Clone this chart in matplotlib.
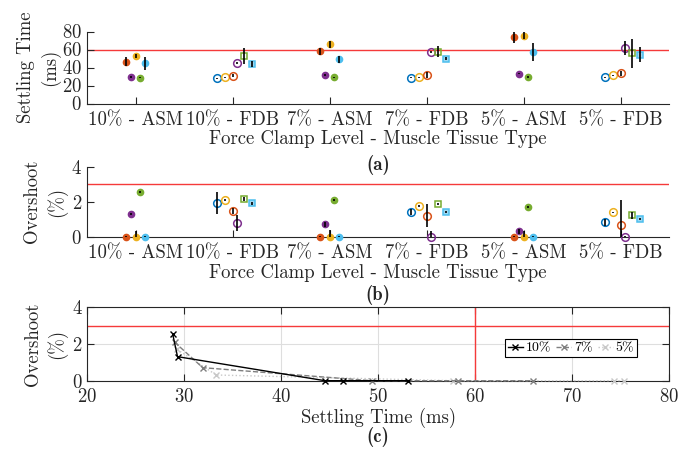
import matplotlib
matplotlib.use("Agg")
import matplotlib.pyplot as plt
import numpy as np

plt.rcParams['font.family'] = ['cmr10', 'DejaVu Serif']
plt.rcParams['axes.unicode_minus'] = False
plt.rcParams['axes.formatter.use_mathtext'] = True

# ---------------- data ----------------
categories = ['10% - ASM', '10% - FDB', '7% - ASM', '7% - FDB', '5% - ASM', '5% - FDB']
levels = ['10%', '7%', '5%']

# ASM groups (10%, 7%, 5%): filled circles
asm_red_st = [46.4, 58.2, 74.3];    asm_red_st_err = [5.0, 4.0, 7.0]
asm_purple_st = [29.3, 31.9, 33.3]; asm_purple_st_err = [1.0, 1.0, 1.0]
asm_yellow_st = [53.1, 65.9, 75.3]; asm_yellow_st_err = [2.0, 4.0, 4.0]
asm_green_st = [28.8, 29.0, 29.25]; asm_green_st_err = [1.0, 1.0, 1.0]
asm_blue_st = [44.5, 49.3, 57.7];   asm_blue_st_err = [7.6, 4.0, 10.0]

asm_red_os = [0.0, 0.0, 0.0];        asm_red_os_err = [0.02, 0.02, 0.02]
asm_purple_os = [1.31, 0.71, 0.31];  asm_purple_os_err = [0.05, 0.15, 0.15]
asm_yellow_os = [0.0, 0.0, 0.0];     asm_yellow_os_err = [0.35, 0.37, 0.35]
asm_green_os = [2.55, 2.1, 1.71];    asm_green_os_err = [0.05, 0.05, 0.05]
asm_blue_os = [0.0, 0.0, 0.0];       asm_blue_os_err = [0.02, 0.02, 0.02]

# FDB groups (10%, 7%, 5%): open markers
fdb_blue_st = [28.0, 28.7, 29.1];     fdb_blue_st_err = [0.5, 0.5, 0.5]
fdb_yellow_st = [29.0, 29.1, 31.3];   fdb_yellow_st_err = [0.5, 0.5, 0.5]
fdb_orange_st = [30.9, 31.7, 33.5];   fdb_orange_st_err = [2.0, 3.0, 3.0]
fdb_purple_st = [45.0, 57.6, 61.7];   fdb_purple_st_err = [1.0, 1.0, 7.6]
fdb_green_st = [52.4, 57.6, 55.7];    fdb_green_st_err = [8.9, 6.0, 15.7]
fdb_lblue_st = [43.9, 49.8, 54.3];    fdb_lblue_st_err = [3.0, 1.5, 8.0]

fdb_blue_os = [1.91, 1.41, 0.82];     fdb_blue_os_err = [0.63, 0.15, 0.2]
fdb_yellow_os = [2.08, 1.77, 1.39];   fdb_yellow_os_err = [0.05, 0.05, 0.05]
fdb_orange_os = [1.47, 1.2, 0.67];    fdb_orange_os_err = [0.15, 0.65, 1.42]
fdb_purple_os = [0.8, 0.0, 0.0];      fdb_purple_os_err = [0.46, 0.35, 0.02]
fdb_green_os = [2.15, 1.87, 1.24];    fdb_green_os_err = [0.1, 0.08, 0.2]
fdb_lblue_os = [1.91, 1.41, 1.01];    fdb_lblue_os_err = [0.08, 0.08, 0.05]

settle_limit = 60
overshoot_limit = 3

# ---------------- styles ----------------
C_BLUE = '#0072BD'; C_ORANGE = '#D95319'; C_YELLOW = '#EDB120'
C_PURPLE = '#7E2F8E'; C_GREEN = '#77AC30'; C_LBLUE = '#4DBEEE'
AX_COL = '#262626'
RED = '#F53A3A'

asm_pos = np.array([1, 3, 5])
fdb_pos = np.array([2, 4, 6])

asm_series = [
    (asm_red_st, asm_red_st_err, asm_red_os, asm_red_os_err, C_ORANGE, -0.10),
    (asm_purple_st, asm_purple_st_err, asm_purple_os, asm_purple_os_err, C_PURPLE, -0.05),
    (asm_yellow_st, asm_yellow_st_err, asm_yellow_os, asm_yellow_os_err, C_YELLOW, 0.0),
    (asm_green_st, asm_green_st_err, asm_green_os, asm_green_os_err, C_GREEN, 0.05),
    (asm_blue_st, asm_blue_st_err, asm_blue_os, asm_blue_os_err, C_LBLUE, 0.10),
]
fdb_series = [
    (fdb_blue_st, fdb_blue_st_err, fdb_blue_os, fdb_blue_os_err, C_BLUE, -0.155, 'o', 'none'),
    (fdb_yellow_st, fdb_yellow_st_err, fdb_yellow_os, fdb_yellow_os_err, C_YELLOW, -0.08, 'o', 'none'),
    (fdb_orange_st, fdb_orange_st_err, fdb_orange_os, fdb_orange_os_err, C_ORANGE, 0.0, 'o', 'none'),
    (fdb_purple_st, fdb_purple_st_err, fdb_purple_os, fdb_purple_os_err, C_PURPLE, 0.05, 'o', 'none'),
    (fdb_green_st, fdb_green_st_err, fdb_green_os, fdb_green_os_err, C_GREEN, 0.12, 's', 'none'),
    (fdb_lblue_st, fdb_lblue_st_err, fdb_lblue_os, fdb_lblue_os_err, C_LBLUE, 0.20, 's', '#9ED8F2'),
]

FS = 13.5
TICK_PAD = 5.5
W, H = 693, 451
fig = plt.figure(figsize=(W / 100, H / 100), dpi=100)

def ax_rect(left, right, top, bottom):
    return [left / W, 1 - bottom / H, (right - left) / W, (bottom - top) / H]

ax_a = fig.add_axes(ax_rect(87, 669, 31.5, 103.5))
ax_b = fig.add_axes(ax_rect(87, 669, 166.7, 236.7))
ax_c = fig.add_axes(ax_rect(87.3, 669.3, 307.3, 380.7))

def style_cat_axis(ax):
    for s in ['top', 'right']:
        ax.spines[s].set_visible(False)
    for s in ['left', 'bottom']:
        ax.spines[s].set_color(AX_COL)
        ax.spines[s].set_linewidth(0.8)
    ax.tick_params(direction='in', length=5, width=0.8, colors=AX_COL,
                   labelcolor='#262626', labelsize=FS)
    ax.tick_params(axis='x', pad=TICK_PAD)
    ax.set_xlim(0.5, 6.5)
    ax.set_xticks(np.arange(1, 7))
    ax.set_xticklabels(categories)
    ax.set_xlabel('Force Clamp Level - Muscle Tissue Type', fontsize=FS, labelpad=1,
                  color='#262626')

def draw_points(ax, which):
    for st, ste, os_, ose, col, off in asm_series:
        y = st if which == 'st' else os_
        e = ste if which == 'st' else ose
        x = asm_pos + off
        ax.plot(x, y, 'o', ms=4.5, mfc=col, mec=col, mew=1, zorder=3, clip_on=False)
        ax.errorbar(x, y, yerr=e, fmt='none', ecolor='black', elinewidth=1.2,
                    capsize=0, zorder=4)
    for st, ste, os_, ose, col, off, mk, face in fdb_series:
        y = st if which == 'st' else os_
        e = ste if which == 'st' else ose
        x = fdb_pos + off
        ax.plot(x, y, mk, ms=5.5 if mk == 'o' else 5, mfc=face, mec=col, mew=1.1,
                zorder=3, clip_on=False)
        ax.errorbar(x, y, yerr=e, fmt='none', ecolor='black', elinewidth=1.2,
                    capsize=0, zorder=4)

# ---- (a) ----
style_cat_axis(ax_a)
ax_a.set_ylim(0, 80)
ax_a.set_yticks([0, 20, 40, 60, 80])
ax_a.axhline(settle_limit, color=RED, lw=1.0, zorder=1)
draw_points(ax_a, 'st')
ax_a.set_ylabel('Settling Time\n(ms)', fontsize=FS, linespacing=1.3, color='#262626')
ax_a.yaxis.set_label_coords(-0.083, 0.5)
ax_a.yaxis.label.set_va('center')

# ---- (b) ----
style_cat_axis(ax_b)
ax_b.set_ylim(0, 4)
ax_b.set_yticks([0, 2, 4])
ax_b.axhline(overshoot_limit, color=RED, lw=1.0, zorder=1)
draw_points(ax_b, 'os')
ax_b.set_ylabel('Overshoot\n(%)', fontsize=FS, linespacing=1.3, color='#262626')
ax_b.yaxis.set_label_coords(-0.072, 0.5)
ax_b.yaxis.label.set_va('center')

# ---- (c) ----
ax_c.set_xlim(20, 80)
ax_c.set_ylim(0, 4)
ax_c.set_xticks(np.arange(20, 81, 10))
ax_c.set_yticks([0, 2, 4])
ax_c.grid(True, color='#DEDEDE', lw=0.8)
ax_c.set_axisbelow(True)
for s in ax_c.spines.values():
    s.set_color(AX_COL)
    s.set_linewidth(0.8)
ax_c.tick_params(direction='in', length=5, width=0.8, colors=AX_COL,
                 labelcolor='#262626', labelsize=FS, top=True, right=True)
ax_c.tick_params(axis='x', pad=TICK_PAD)
ax_c.axhline(overshoot_limit, color=RED, lw=1.0, zorder=2)
ax_c.axvline(settle_limit, color=RED, lw=1.0, zorder=2)

line_styles = [('black', '-'), ('#7F7F7F', '--'), ('#C8C8C8', ':')]
for i, lvl in enumerate(levels):
    xs = [s[0][i] for s in asm_series]
    ys = [s[2][i] for s in asm_series]
    order = np.argsort(xs)
    xs = np.array(xs)[order]
    ys = np.array(ys)[order]
    col, ls = line_styles[i]
    ax_c.plot(xs, ys, color=col, ls=ls, lw=1.0, marker='x', ms=5, mew=1.0,
              label=lvl, zorder=3 - i * 0.1, clip_on=False)
ax_c.set_xlabel('Settling Time (ms)', fontsize=FS, labelpad=1, color='#262626')
ax_c.set_ylabel('Overshoot\n(%)', fontsize=FS, linespacing=1.3, color='#262626')
ax_c.yaxis.set_label_coords(-0.072, 0.5)
ax_c.yaxis.label.set_va('center')
leg = ax_c.legend(loc='center', bbox_to_anchor=(0.831, 0.445), ncol=3, fontsize=10,
                  frameon=True, fancybox=False, edgecolor='black', framealpha=1,
                  handlelength=1.1, handletextpad=0.2, columnspacing=0.35,
                  borderpad=0.2, borderaxespad=0)
leg.get_frame().set_linewidth(0.8)

# panel tags
for tag, yp in [('(a)', 165), ('(b)', 295), ('(c)', 436.7)]:
    fig.text(378 / W, 1 - yp / H, tag, fontsize=FS, ha='center', va='center',
             family=['cmb10', 'DejaVu Serif'], color='#262626')

fig.savefig('out.png', dpi=100)
